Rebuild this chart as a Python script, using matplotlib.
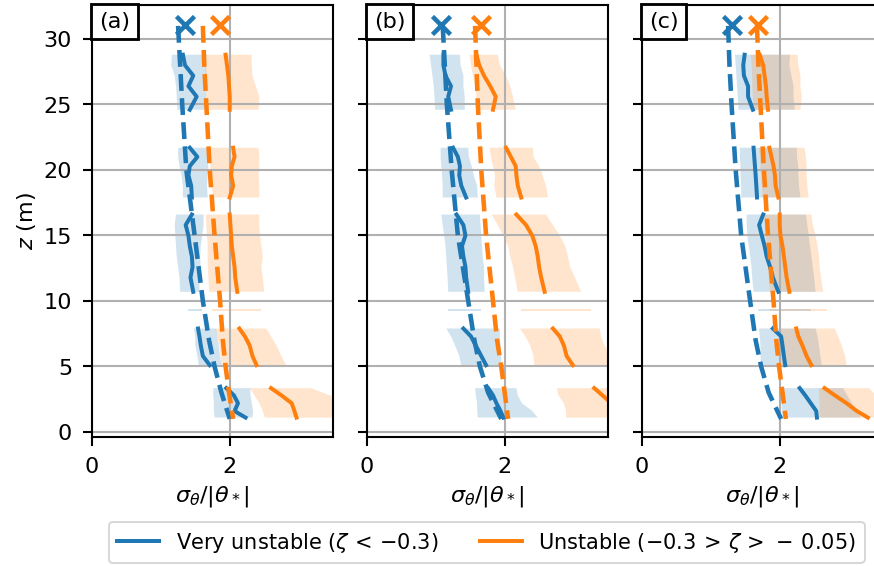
import numpy as np
import matplotlib
matplotlib.use('Agg')
import matplotlib.pyplot as plt
from matplotlib.offsetbox import AnchoredText

nan = np.nan

# heights of the observed profiles (m), nan separates the mast sections
z_obs = [28.8, 28.0, 27.2, 26.4, 25.6, 24.6, nan,
         21.7, 21.0, 20.3, 19.6, 18.8, 17.9, nan,
         16.6, 15.8, 15.0, 14.2, 13.4, 12.6, 11.8, 10.7, nan,
         9.38, 9.25, nan,
         7.9, 7.3, 6.6, 5.8, 5.1, nan,
         3.35, 2.8, 2.2, 1.6, 1.1]

# panel (a)
a_vu_mean = [1.32, 1.35, 1.47, 1.40, 1.52, 1.42, nan,
             1.42, 1.53, 1.42, 1.40, 1.44, 1.45, nan,
             1.45, 1.36, 1.40, 1.42, 1.45, 1.46, 1.43, 1.47, nan,
             nan, nan, nan,
             1.54, 1.56, 1.58, 1.61, 1.71, nan,
             1.95, 2.06, 2.12, 2.07, 2.23]
a_vu_lo = [1.16, 1.15, 1.20, 1.22, 1.23, 1.24, nan,
           1.25, 1.25, 1.27, 1.30, 1.32, 1.32, nan,
           1.22, 1.20, 1.21, 1.22, 1.23, 1.25, 1.27, 1.28, nan,
           1.40, 1.40, nan,
           1.48, 1.50, 1.50, 1.53, 1.55, nan,
           1.76, 1.76, 1.77, 1.77, 1.78]
a_vu_hi = [1.66, 1.65, 1.67, 1.66, 1.66, 1.65, nan,
           1.68, 1.67, 1.69, 1.68, 1.67, 1.68, nan,
           1.62, 1.62, 1.60, 1.58, 1.57, 1.58, 1.56, 1.56, nan,
           1.60, 1.60, nan,
           1.80, 1.82, 1.84, 1.86, 1.88, nan,
           2.30, 2.30, 2.32, 2.34, 2.33]
a_u_mean = [1.94, 1.96, 1.98, 1.99, 2.00, 2.00, nan,
            2.05, 2.07, 2.03, 2.02, 2.05, 2.00, nan,
            2.00, 2.01, 2.02, 2.03, 2.05, 2.07, 2.08, 2.11, nan,
            nan, nan, nan,
            2.14, 2.22, 2.29, 2.33, 2.39, nan,
            2.60, 2.75, 2.90, 2.94, 2.97]
a_u_lo = [1.64, 1.64, 1.65, 1.66, 1.66, 1.67, nan,
          1.68, 1.70, 1.72, 1.72, 1.74, 1.76, nan,
          1.65, 1.66, 1.67, 1.68, 1.68, 1.68, 1.69, 1.70, nan,
          1.74, 1.74, nan,
          1.79, 1.82, 1.85, 1.87, 1.88, nan,
          2.29, 2.36, 2.43, 2.48, 2.51]
a_u_hi = [2.32, 2.32, 2.33, 2.38, 2.43, 2.42, nan,
          2.42, 2.43, 2.43, 2.42, 2.43, 2.43, nan,
          2.43, 2.43, 2.44, 2.46, 2.48, 2.46, 2.48, 2.50, nan,
          2.45, 2.45, nan,
          2.53, 2.60, 2.68, 2.75, 2.82, nan,
          3.18, 3.45, 3.70, 3.80, 3.80]

# panel (b)
b_vu_mean = [1.11, 1.11, 1.14, 1.22, 1.18, 1.22, nan,
             1.25, 1.32, 1.35, 1.34, 1.37, 1.44, nan,
             1.30, 1.40, 1.43, 1.38, 1.40, 1.43, 1.44, 1.47, nan,
             nan, nan, nan,
             1.40, 1.51, 1.58, 1.66, 1.73, nan,
             1.76, 1.83, 1.88, 1.94, 1.98]
b_vu_lo = [0.91, 0.93, 0.95, 0.97, 0.98, 0.99, nan,
           1.07, 1.07, 1.08, 1.09, 1.10, 1.10, nan,
           1.08, 1.10, 1.12, 1.14, 1.15, 1.16, 1.17, 1.18, nan,
           1.18, 1.18, nan,
           1.15, 1.22, 1.28, 1.34, 1.37, nan,
           1.57, 1.58, 1.60, 1.60, 1.61]
b_vu_hi = [1.35, 1.36, 1.40, 1.40, 1.42, 1.42, nan,
           1.47, 1.48, 1.52, 1.55, 1.60, 1.61, nan,
           1.64, 1.65, 1.66, 1.67, 1.68, 1.70, 1.70, 1.71, nan,
           1.66, 1.66, nan,
           1.93, 1.93, 1.94, 1.95, 1.95, nan,
           2.17, 2.19, 2.25, 2.40, 2.48]
b_u_mean = [1.59, 1.63, 1.70, 1.79, 1.87, 1.83, nan,
            2.02, 2.09, 2.16, 2.17, 2.19, 2.24, nan,
            2.17, 2.31, 2.40, 2.45, 2.48, 2.50, 2.53, 2.58, nan,
            nan, nan, nan,
            2.70, 2.80, 2.86, 2.90, 2.99, nan,
            3.30, 3.42, 3.55, 3.65, 3.75]
b_u_lo = [1.49, 1.51, 1.54, 1.57, 1.59, 1.60, nan,
          1.78, 1.80, 1.83, 1.86, 1.85, 1.88, nan,
          1.81, 1.90, 1.98, 2.05, 2.08, 2.12, 2.15, 2.19, nan,
          2.24, 2.24, nan,
          2.22, 2.30, 2.37, 2.42, 2.43, nan,
          2.76, 2.78, 2.86, 2.89, 2.89]
b_u_hi = [1.90, 1.93, 2.02, 2.08, 2.12, 2.16, nan,
          2.41, 2.42, 2.50, 2.55, 2.60, 2.63, nan,
          2.60, 2.70, 2.80, 2.88, 2.92, 2.95, 3.02, 3.11, nan,
          3.26, 3.26, nan,
          3.38, 3.40, 3.45, 3.55, 3.60, nan,
          3.70, 3.70, 3.70, 3.70, 3.70]

# panel (c)
c_vu_mean = [1.49, 1.47, 1.48, 1.54, 1.54, 1.61, nan,
             1.62, 1.63, 1.64, 1.65, 1.66, 1.67, nan,
             1.76, 1.70, 1.74, 1.78, 1.81, 1.86, 1.90, 1.98, nan,
             nan, nan, nan,
             1.90, 2.02, 2.04, 2.06, 2.08, nan,
             2.29, 2.37, 2.45, 2.53, 2.54]
c_vu_lo = [1.35, 1.36, 1.37, 1.38, 1.39, 1.40, nan,
           1.42, 1.42, 1.43, 1.43, 1.44, 1.44, nan,
           1.52, 1.52, 1.53, 1.55, 1.57, 1.59, 1.60, 1.62, nan,
           1.68, 1.68, nan,
           1.70, 1.71, 1.72, 1.72, 1.73, nan,
           2.02, 2.02, 2.03, 2.03, 2.04]
c_vu_hi = [2.15, 2.14, 2.17, 2.20, 2.20, 2.22, nan,
           2.25, 2.25, 2.27, 2.27, 2.28, 2.30, nan,
           2.38, 2.40, 2.42, 2.44, 2.46, 2.48, 2.50, 2.52, nan,
           2.46, 2.46, nan,
           2.52, 2.55, 2.57, 2.59, 2.61, nan,
           2.92, 2.98, 3.05, 3.12, 3.18]
c_u_mean = [1.71, 1.76, 1.78, 1.80, 1.81, 1.83, nan,
            1.85, 1.88, 1.91, 1.93, 1.94, 1.98, nan,
            2.00, 2.00, 2.01, 2.04, 2.06, 2.08, 2.10, 2.14, nan,
            nan, nan, nan,
            2.24, 2.27, 2.33, 2.39, 2.46, nan,
            2.65, 2.80, 2.97, 3.12, 3.28]
c_u_lo = [1.58, 1.59, 1.60, 1.60, 1.61, 1.62, nan,
          1.70, 1.71, 1.72, 1.73, 1.74, 1.75, nan,
          1.78, 1.79, 1.80, 1.81, 1.82, 1.83, 1.84, 1.86, nan,
          1.86, 1.86, nan,
          2.00, 2.00, 2.01, 2.02, 2.03, nan,
          2.57, 2.57, 2.58, 2.58, 2.58]
c_u_hi = [2.26, 2.27, 2.30, 2.30, 2.32, 2.30, nan,
          2.36, 2.38, 2.39, 2.39, 2.40, 2.42, nan,
          2.46, 2.48, 2.52, 2.55, 2.57, 2.58, 2.60, 2.63, nan,
          2.68, 2.68, nan,
          2.80, 2.85, 2.90, 2.95, 2.97, nan,
          3.30, 3.40, 3.50, 3.60, 3.60]

# similarity curves (dashed)
z_model = [31, 28, 25, 20, 15, 10, 7, 5, 3, 1]
a_vu_model = [1.25, 1.28, 1.31, 1.37, 1.49, 1.61, 1.70, 1.78, 1.88, 2.00]
a_u_model = [1.61, 1.63, 1.66, 1.71, 1.78, 1.86, 1.90, 1.94, 1.99, 2.05]
b_vu_model = [1.10, 1.13, 1.16, 1.23, 1.32, 1.47, 1.56, 1.64, 1.76, 1.95]
b_u_model = [1.57, 1.59, 1.61, 1.66, 1.73, 1.83, 1.89, 1.95, 2.00, 2.05]
c_vu_model = [1.25, 1.27, 1.30, 1.36, 1.44, 1.57, 1.65, 1.73, 1.84, 2.02]
c_u_model = [1.67, 1.69, 1.72, 1.77, 1.83, 1.91, 1.95, 1.99, 2.04, 2.09]

# crosses above the profiles
z_cross = 31.1
vu_cross = [1.35, 1.07, 1.31]
u_cross = [1.86, 1.65, 1.69]

panel_labels = ['(a)', '(b)', '(c)']
class_labels = [r'Very unstable ($\zeta \,<\, {-0.3}$)',
                r'Unstable ($-0.3 \,>\, \zeta \,>\, -\, 0.05$)']

panels = [
    ((a_vu_mean, a_vu_lo, a_vu_hi, a_vu_model), (a_u_mean, a_u_lo, a_u_hi, a_u_model)),
    ((b_vu_mean, b_vu_lo, b_vu_hi, b_vu_model), (b_u_mean, b_u_lo, b_u_hi, b_u_model)),
    ((c_vu_mean, c_vu_lo, c_vu_hi, c_vu_model), (c_u_mean, c_u_lo, c_u_hi, c_u_model)),
]
crosses = [vu_cross, u_cross]
colors = ['C0', 'C1']

plt.rcParams['font.size'] = 11.8

fig = plt.figure(figsize=(6.4, 4.145), dpi=136.5625)
lefts = [0.1053, 0.4199, 0.7346]
handles = []
for i, (left, cls_data) in enumerate(zip(lefts, panels)):
    ax = fig.add_axes([left, 0.2284, 0.2757, 0.7628])
    z = np.array(z_obs)
    for j, (mean, lo, hi, model) in enumerate(cls_data):
        ax.fill_betweenx(z, np.array(lo), np.array(hi), color=colors[j], alpha=0.2, lw=0)
        line, = ax.plot(mean, z, color=colors[j], lw=2.1)
        ax.plot(model, z_model, '--', color=colors[j], lw=2.4)
        ax.plot(crosses[j][i], z_cross, 'x', color=colors[j], ms=9, mew=2.4)
        if i == 0:
            handles.append(line)

    ax.set_xlim(0, 3.5)
    ax.set_ylim(-0.36, 32.6)
    ax.set_xticks([0, 2])
    ax.set_yticks([0, 5, 10, 15, 20, 25, 30])
    ax.grid(True, color='#b0b0b0', lw=1.1)
    for sp in ax.spines.values():
        sp.set_linewidth(1.1)
    ax.tick_params(width=1.1, length=4.7, pad=5.8)
    ax.set_xlabel(r'$\sigma_\theta/|\theta_*|$')
    if i == 0:
        ax.set_ylabel(r'$z$ (m)', labelpad=3)
    else:
        ax.tick_params(labelleft=False)

    at = AnchoredText(panel_labels[i], loc='upper left', pad=0.3, borderpad=0.0,
                      prop=dict(size=11.8), frameon=True)
    at.patch.set_boxstyle('square,pad=0.05')
    at.patch.set_linewidth(1.5)
    ax.add_artist(at)

fig.legend(handles, class_labels, loc='lower center', bbox_to_anchor=(0.557, 0.0),
           ncol=2, borderaxespad=0.15, fontsize=11.0)

fig.savefig('out.png', dpi=136.5625)
